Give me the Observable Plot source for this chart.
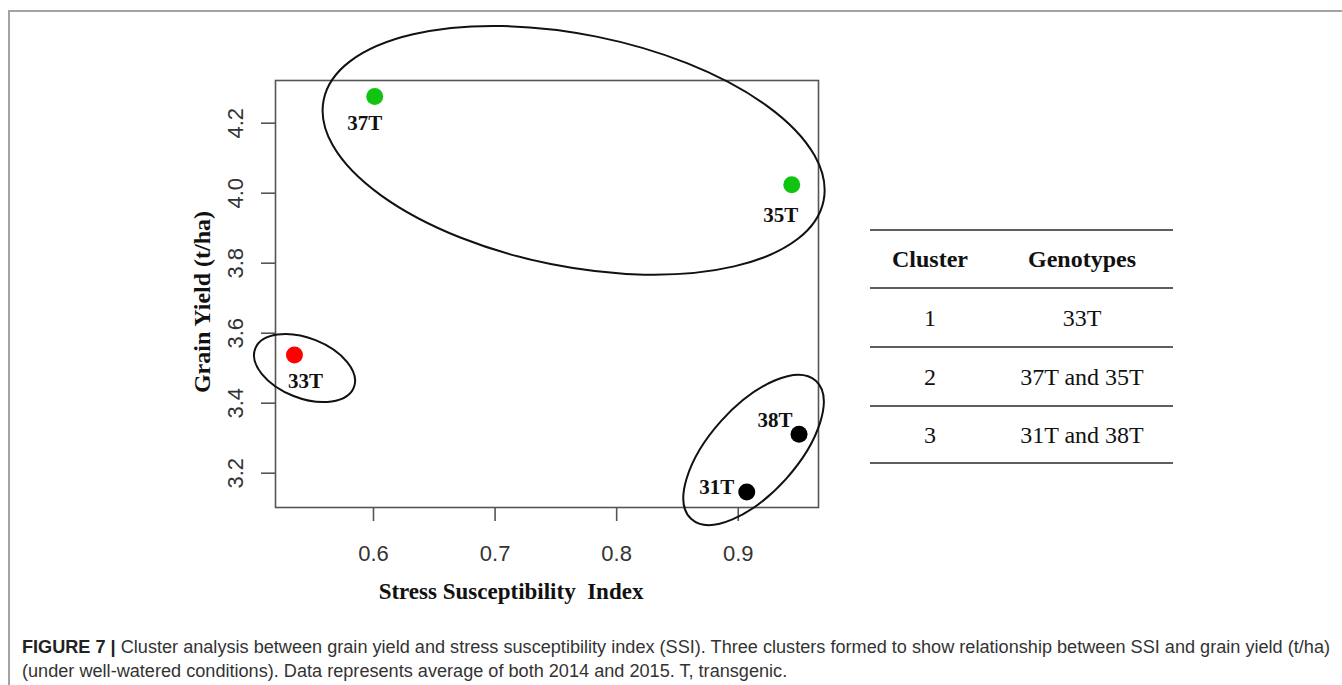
<!DOCTYPE html>
<html>
<head>
<meta charset="utf-8">
<script src="https://cdn.jsdelivr.net/npm/d3@7"></script>
<script src="https://cdn.jsdelivr.net/npm/@observablehq/plot@0.6"></script>
<style>
  html, body { margin: 0; padding: 0; background: #fff; }
  #fig { position: relative; width: 1342px; height: 685px; overflow: hidden; background: #fff; }
  #frame { position: absolute; left: 8px; top: 10px; width: 1400px; height: 700px;
           border-top: 2px solid #a3a3a3; border-left: 2px solid #a3a3a3; }
  #chart { position: absolute; left: 0; top: 0; }
  .tline { position: absolute; left: 870px; width: 303px; height: 0; border-top: 2px solid #5e5e5e; }
  .tcell { position: absolute; transform: translate(-50%, -50%); font-family: "Liberation Serif", serif;
           font-size: 24px; color: #111; white-space: nowrap; }
  .tcell.h { font-weight: bold; }
  .cap { position: absolute; left: 22px; font-family: "Liberation Sans", Arial, sans-serif; font-size: 17.5px;
         line-height: 20px; color: #333; white-space: nowrap; transform-origin: 0 50%; }
  .cap b { color: #222; }
</style>
</head>
<body>
<div id="fig">
  <div id="frame"></div>
  <div id="chart"></div>
</div>
<script>
// ---- data ----
const genotypes  = ["37T", "35T", "33T", "38T", "31T"];
const ssi        = [0.601, 0.944, 0.535, 0.950, 0.907];
const grainYield = [4.276, 4.024, 3.538, 3.311, 3.146];
const cluster    = [2, 2, 1, 3, 3];

const xTicks = [0.6, 0.7, 0.8, 0.9];
const yTicks = [3.2, 3.4, 3.6, 3.8, 4.0, 4.2];

// cluster ellipse centres (data units), cluster 1..3
const clusterIds       = [1, 2, 3];
const ellipseCx        = [0.5437, 0.765, 0.913];
const ellipseCy        = [3.499, 4.121, 3.265];
const clusterGenotypes = ["33T", "37T and 35T", "31T and 38T"];

const xLabel = "Stress Susceptibility  Index";
const yLabel = "Grain Yield (t/ha)";
const captionBold = "FIGURE 7 |";
const captionLine1 = " Cluster analysis between grain yield and stress susceptibility index (SSI). Three clusters formed to show relationship between SSI and grain yield (t/ha)";
const captionLine2 = "(under well-watered conditions). Data represents average of both 2014 and 2015. T, transgenic.";

// ---- styles (not data) ----
const clusterColors = ["#ff0000", "#11c411", "#000000"];
const ellipseShape = [ // semi-axes in px and rotation in degrees
  {rx: 53, ry: 30, angle: 21.5},
  {rx: 255, ry: 116, angle: 11.4},
  {rx: 93, ry: 43.5, angle: -48}
];
const labelOffset = {"37T": [-10, 27], "35T": [-11, 30], "33T": [11, 26], "38T": [-24, -14], "31T": [-30, -5]};

const points = genotypes.map((g, i) => ({g, x: ssi[i], y: grainYield[i], c: cluster[i]}));
const ellipses = clusterIds.map((c, i) => ({c, cx: ellipseCx[i], cy: ellipseCy[i], ...ellipseShape[i]}));

const serif = "Liberation Serif, Times New Roman, serif";
const sans = "Liberation Sans, Arial, sans-serif";

function ellipseMark(index, scales) {
  const g = d3.create("svg:g");
  for (const e of ellipses) {
    const cx = scales.x(e.cx), cy = scales.y(e.cy);
    g.append("ellipse")
      .attr("cx", cx).attr("cy", cy).attr("rx", e.rx).attr("ry", e.ry)
      .attr("transform", `rotate(${e.angle} ${cx} ${cy})`)
      .attr("fill", "none").attr("stroke", "#111").attr("stroke-width", 2);
  }
  return g.node();
}

const W = 880, H = 620;
const plot = Plot.plot({
  width: W, height: H,
  marginLeft: 275, marginRight: W - 818, marginTop: 80, marginBottom: H - 507,
  style: {background: "transparent", overflow: "visible"},
  x: {domain: [0.5194, 0.966]},
  y: {domain: [3.102, 4.322]},
  marks: [
    Plot.frame({stroke: "#555", strokeWidth: 1.6}),
    Plot.axisX({ticks: xTicks, tickSize: 14, tickPadding: 24, tickFormat: d3.format(".1f"),
                label: null, fontSize: 22, fontFamily: sans, stroke: "#555", strokeWidth: 1.6, color: "#333"}),
    Plot.axisY({ticks: yTicks, tickSize: 14, tickFormat: () => "", label: null,
                stroke: "#555", strokeWidth: 1.6}),
    Plot.text(yTicks, {y: d => d, frameAnchor: "left", dx: -40, rotate: -90, text: d3.format(".1f"),
                fontSize: 22, fontFamily: sans, fill: "#333", textAnchor: "middle", lineAnchor: "middle"}),
    Plot.text([xLabel], {frameAnchor: "bottom", dx: -36, dy: 84, text: d => d, fontSize: 23,
                fontWeight: "bold", fontFamily: serif, fill: "#111", textAnchor: "middle", lineAnchor: "middle"}),
    Plot.text([yLabel], {frameAnchor: "left", dx: -73, dy: 8, rotate: -90, text: d => d, fontSize: 24,
                fontWeight: "bold", fontFamily: serif, fill: "#111", textAnchor: "middle", lineAnchor: "middle"}),
    ellipseMark,
    Plot.dot(points, {x: "x", y: "y", r: 8.5, fill: d => clusterColors[d.c - 1], stroke: "none"}),
    ...points.map(p => Plot.text([p], {x: "x", y: "y", text: "g", dx: labelOffset[p.g][0], dy: labelOffset[p.g][1],
                fontSize: 21, fontWeight: "bold", fontFamily: serif, fill: "#111"}))
  ]
});
document.getElementById("chart").appendChild(plot);

// ---- table ----
const fig = document.getElementById("fig");
const lineYs = [230, 288, 347, 406, 463];
lineYs.forEach(y => {
  const d = document.createElement("div");
  d.className = "tline"; d.style.top = (y - 1) + "px"; fig.appendChild(d);
});
function cell(text, x, y, header) {
  const d = document.createElement("div");
  d.className = "tcell" + (header ? " h" : "");
  d.textContent = text; d.style.left = x + "px"; d.style.top = y + "px";
  fig.appendChild(d);
}
cell("Cluster", 930, (lineYs[0] + lineYs[1]) / 2, true);
cell("Genotypes", 1082, (lineYs[0] + lineYs[1]) / 2, true);
clusterIds.forEach((c, i) => {
  const y = (lineYs[i + 1] + lineYs[i + 2]) / 2;
  cell(String(c), 930, y, false);
  cell(clusterGenotypes[i], 1082, y, false);
});

// ---- caption ----
function capLine(html, top) {
  const d = document.createElement("div");
  d.className = "cap"; d.innerHTML = html; d.style.top = top + "px";
  fig.appendChild(d);
  return d;
}
const l1 = capLine(`<b>${captionBold}</b>${captionLine1}`, 637);
const l2 = capLine(captionLine2, 661);
const k = 1308 / l1.getBoundingClientRect().width;
l1.style.transform = `scaleX(${k})`;
l2.style.transform = `scaleX(${k})`;
</script>
</body>
</html>
